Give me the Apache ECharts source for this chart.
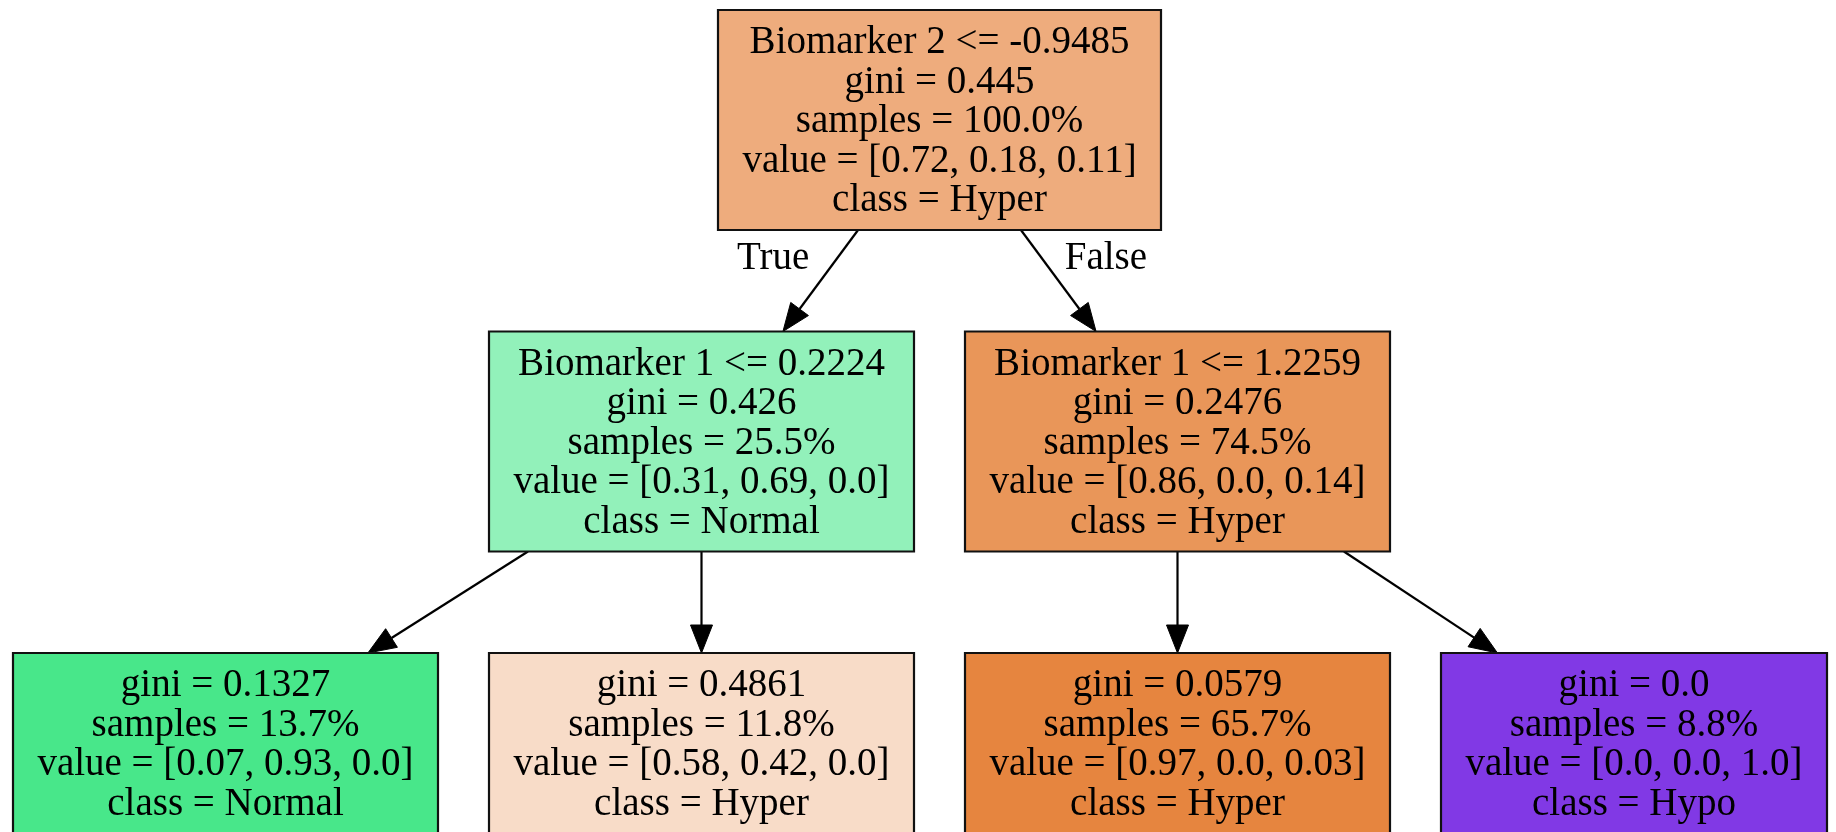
<!DOCTYPE html>
<html>
<head>
<meta charset="utf-8">
<title>Decision tree</title>
<script src="https://cdn.jsdelivr.net/npm/echarts/dist/echarts.min.js"></script>
<style>
  * { margin: 0; padding: 0; }
  html, body { background: #fff; overflow: hidden; }
  #tree { width: 1836px; height: 832px; }
</style>
</head>
<body>
<div id="tree"></div>
<script>
  // node order: root, the two splits, then the four leaves left to right
  const nodeParent = [-1, 0, 0, 1, 1, 2, 2];
  const splitRules = ['Biomarker 2 <= -0.9485', 'Biomarker 1 <= 0.2224', 'Biomarker 1 <= 1.2259', '', '', '', ''];
  const giniValues = [0.445, 0.426, 0.2476, 0.1327, 0.4861, 0.0579, 0.0];
  const samplePct = [100.0, 25.5, 74.5, 13.7, 11.8, 65.7, 8.8];
  const classShares = [
    [0.72, 0.18, 0.11],
    [0.31, 0.69, 0.0],
    [0.86, 0.0, 0.14],
    [0.07, 0.93, 0.0],
    [0.58, 0.42, 0.0],
    [0.97, 0.0, 0.03],
    [0.0, 0.0, 1.0]
  ];
  const classNames = ['Hyper', 'Normal', 'Hypo'];
  const edgeLabels = ['True', 'False']; // the root's left / right edge

  // look
  const classColors = [[229, 129, 57], [57, 229, 129], [129, 57, 229]];
  const FONT = '39px "Liberation Serif", "Times New Roman", serif';
  const LINE_H = 39.5, PAD_X = 24.5, PAD_Y = 11.25, TEXT_DY = 2;
  const TOP = 10, RANK_GAP = 101.5, LEFT = 13, NODE_GAP = 51;
  const ARROW_LEN = 28, ARROW_HALF = 11;
  const LABEL_DX = 85, LABEL_DY = 29;
  const W = 1836, H = 832;

  const fmt = v => Number.isInteger(v) ? v.toFixed(1) : String(v);
  const argmax = a => a.indexOf(Math.max.apply(null, a));

  // same shading sklearn uses: class colour faded by how pure the node is
  function fillColor(shares) {
    const s = shares.slice().sort((a, b) => b - a);
    const alpha = (s[0] - s[1]) / (1 - s[1]);
    const c = classColors[argmax(shares)].map(v => Math.round(alpha * v + (1 - alpha) * 255));
    return 'rgb(' + c.join(',') + ')';
  }

  const ctx = document.createElement('canvas').getContext('2d');
  ctx.font = FONT;

  const nodes = nodeParent.map((p, i) => {
    const lines = [];
    if (splitRules[i]) lines.push(splitRules[i]);
    lines.push('gini = ' + fmt(giniValues[i]));
    lines.push('samples = ' + fmt(samplePct[i]) + '%');
    lines.push('value = [' + classShares[i].map(fmt).join(', ') + ']');
    lines.push('class = ' + classNames[argmax(classShares[i])]);
    const textW = Math.max.apply(null, lines.map(t => ctx.measureText(t).width));
    let depth = 0;
    for (let q = p; q >= 0; q = nodeParent[q]) depth++;
    return {
      parent: p, depth, lines,
      w: Math.round(textW + 2 * PAD_X),
      h: lines.length * LINE_H + 2 * PAD_Y,
      fill: fillColor(classShares[i]),
      children: []
    };
  });
  nodes.forEach((n, i) => { if (n.parent >= 0) nodes[n.parent].children.push(i); });

  // ranks stacked top-down, nodes of a rank share the centre line
  const maxDepth = Math.max.apply(null, nodes.map(n => n.depth));
  let rankTop = TOP;
  for (let d = 0; d <= maxDepth; d++) {
    const rankH = Math.max.apply(null, nodes.filter(n => n.depth === d).map(n => n.h));
    nodes.forEach(n => { if (n.depth === d) n.cy = rankTop + rankH / 2; });
    rankTop += rankH + RANK_GAP;
  }

  // leaves packed left to right
  let cursor = LEFT;
  nodes.forEach(n => { if (!n.children.length) { n.cx = cursor + n.w / 2; cursor += n.w + NODE_GAP; } });
  const mid = (LEFT + cursor - NODE_GAP) / 2;
  // splits sit over their inner child, the root halfway between its two
  for (let d = maxDepth - 1; d >= 0; d--) {
    nodes.forEach(n => {
      if (n.depth !== d || !n.children.length) return;
      const xs = n.children.map(c => nodes[c].cx);
      if (d === 0) n.cx = xs.reduce((a, b) => a + b, 0) / xs.length;
      else n.cx = xs.reduce((a, b) => Math.abs(b - mid) < Math.abs(a - mid) ? b : a);
    });
  }

  // point where the ray from the box centre towards `to` leaves the box
  function exitPoint(c, half, to) {
    const dx = to[0] - c[0], dy = to[1] - c[1];
    const t = Math.min(dx ? half[0] / Math.abs(dx) : Infinity, dy ? half[1] / Math.abs(dy) : Infinity);
    return [c[0] + dx * t, c[1] + dy * t];
  }

  const chart = echarts.init(document.getElementById('tree'));
  chart.setOption({
    backgroundColor: '#fff',
    animation: false,
    grid: { left: 0, right: 0, top: 0, bottom: 0 },
    xAxis: { type: 'value', min: 0, max: W, show: false },
    yAxis: { type: 'value', min: 0, max: H, inverse: true, show: false },
    series: [
      {
        type: 'custom',
        z: 1,
        data: nodes.map((n, i) => [n.cx, n.cy, i]).filter(d => nodes[d[2]].parent >= 0),
        renderItem(params, api) {
          const c = nodes[api.value(2)], p = nodes[c.parent];
          const pc = api.coord([p.cx, p.cy]), cc = api.coord([c.cx, c.cy]);
          const ps = api.size([p.w, p.h]).map(Math.abs), cs = api.size([c.w, c.h]).map(Math.abs);
          const start = exitPoint(pc, [ps[0] / 2, ps[1] / 2], cc);
          const tip = exitPoint(cc, [cs[0] / 2, cs[1] / 2], pc);
          const len = Math.hypot(tip[0] - start[0], tip[1] - start[1]);
          const ux = (tip[0] - start[0]) / len, uy = (tip[1] - start[1]) / len;
          const base = [tip[0] - ux * ARROW_LEN, tip[1] - uy * ARROW_LEN];
          const kids = [
            { type: 'line', shape: { x1: start[0], y1: start[1], x2: base[0], y2: base[1] },
              style: { stroke: '#000', lineWidth: 2.2 } },
            { type: 'polygon', shape: { points: [tip,
                [base[0] - uy * ARROW_HALF, base[1] + ux * ARROW_HALF],
                [base[0] + uy * ARROW_HALF, base[1] - ux * ARROW_HALF]] },
              style: { fill: '#000', stroke: '#000', lineWidth: 1 } }
          ];
          if (c.parent === 0) {
            const k = p.children.indexOf(api.value(2));
            const side = c.cx < p.cx ? -1 : 1;
            kids.push({ type: 'text', style: {
              text: edgeLabels[k], x: start[0] + side * LABEL_DX, y: start[1] + LABEL_DY,
              font: FONT, fill: '#000', align: 'center', verticalAlign: 'middle' } });
          }
          return { type: 'group', children: kids };
        }
      },
      {
        type: 'custom',
        z: 2,
        data: nodes.map((n, i) => [n.cx, n.cy, i]),
        renderItem(params, api) {
          const n = nodes[api.value(2)];
          const c = api.coord([api.value(0), api.value(1)]);
          const s = api.size([n.w, n.h]).map(Math.abs);
          const kids = [{
            type: 'rect',
            shape: { x: c[0] - s[0] / 2, y: c[1] - s[1] / 2, width: s[0], height: s[1] },
            style: { fill: n.fill, stroke: '#111', lineWidth: 2.2 }
          }];
          n.lines.forEach((t, k) => kids.push({
            type: 'text',
            style: { text: t, x: c[0], y: c[1] - s[1] / 2 + PAD_Y + TEXT_DY + LINE_H * (k + 0.5),
              font: FONT, fill: '#000', align: 'center', verticalAlign: 'middle' }
          }));
          return { type: 'group', children: kids };
        }
      }
    ]
  });
</script>
</body>
</html>
